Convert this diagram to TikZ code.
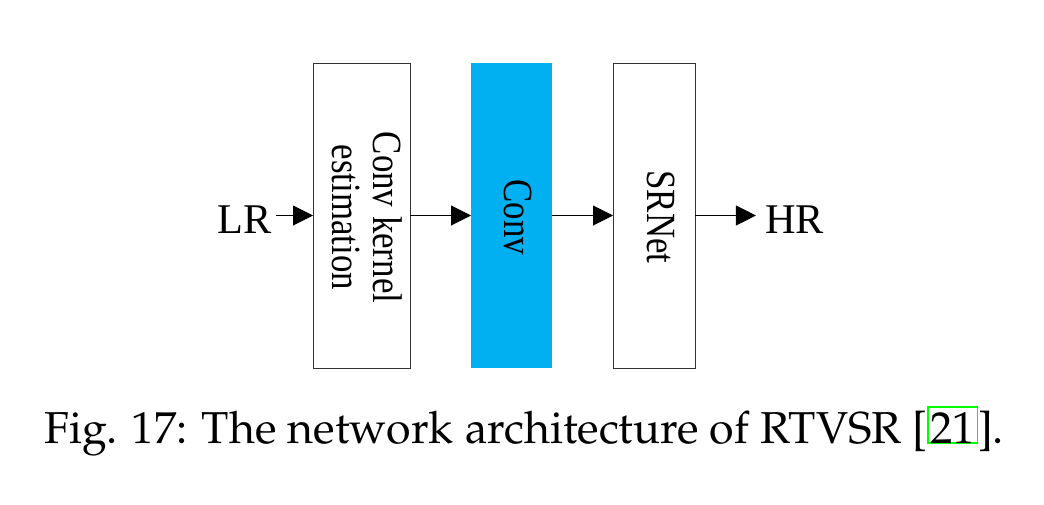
\documentclass[tikz,border=0pt]{standalone}
\usepackage[T1]{fontenc}
\usepackage{fontspec}
\setmainfont{Liberation Serif}
\newfontfamily\blockfont{Liberation Serif}
\usetikzlibrary{arrows.meta}
\definecolor{convblue}{HTML}{00B0F0}
\definecolor{linkgreen}{RGB}{0,255,0}
% block labels are set narrow along the reading direction
\newcommand{\narrow}[1]{\scalebox{0.84}[1]{#1}}
\newcommand{\capfont}{\fontencoding{T1}\fontfamily{ppl}\fontsize{44.7}{54}\selectfont}
\begin{document}
\begin{tikzpicture}[x=1pt,y=-1pt,
  blk/.style={rotate=-90, inner sep=0pt, outer sep=0pt, minimum width=305pt},
  outlined/.style={blk, draw=black!80, line width=1pt},
  blktext/.style={rotate=-90, anchor=base, inner sep=0pt,
                  font=\blockfont\fontsize{41.5}{41}\selectfont},
  io/.style={inner sep=0pt, font=\blockfont\fontsize{42.3}{50}\selectfont},
  arr/.style={draw=black, line width=1pt, -{Triangle[length=20pt,width=20pt]}},
  captext/.style={inner sep=0pt, anchor=base west, font=\capfont},
  citebox/.style={captext, draw=linkgreen, line width=1.3pt, inner xsep=2.5pt,
                  inner ysep=0pt, text height=36pt, text depth=0pt}
]
\useasboundingbox (0,0) rectangle (1044,504);

% processing blocks
\node[outlined, minimum height=97pt] (est) at (361.5,215.5) {};
\node[blk, fill=convblue, minimum height=81pt] (conv) at (511.5,215.5) {};
\node[outlined, minimum height=82pt] (srnet) at (654,215.5) {};

% block labels
\node[blktext] (estA) at (373,217.5) {\narrow{Conv kernel}};
\node[blktext] (estB) at (332,217.5) {\narrow{estimation}};
\node[blktext] (convT) at (504,217.5) {\narrow{Conv}};
\node[blktext] (srnetT) at (647,217) {\narrow{SRNet}};

% input and output
\node[io, anchor=base, inner xsep=4pt] (lr) at (245,233) {LR};
\node[io, anchor=base, inner xsep=9pt] (hr) at (794.5,233) {HR};

% data flow
\draw[arr] (lr.east |- est.center) -- (est);
\draw[arr] (est) -- (conv);
\draw[arr] (conv) -- (srnet);
\draw[arr] (srnet) -- (hr.west |- srnet.center);

% caption, with the framed citation link
\node[captext] (capA) at (44,443) {Fig. 17: The network architecture of RTVSR [\kern-0.5pt};
\node[citebox] (cite) at (capA.base east) {21};
\node[captext] (capB) at (cite.base east) {\kern-0.5pt].};
\end{tikzpicture}
\end{document}
